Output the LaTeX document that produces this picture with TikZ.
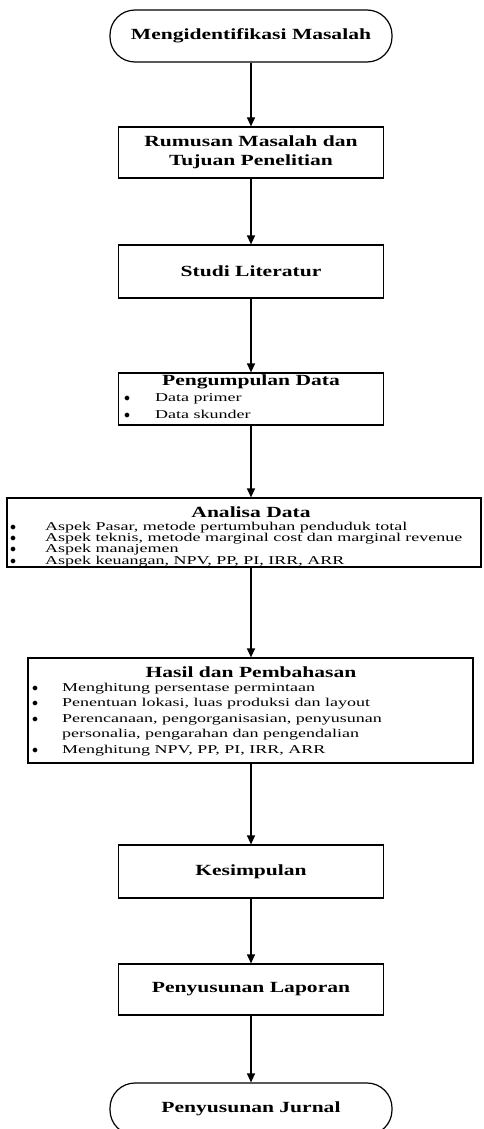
\documentclass[tikz,border=0pt]{standalone}
\usepackage{fontspec}
\setmainfont{Liberation Serif}
\newfontfamily\headfont{Liberation Serif Bold}[FakeStretch=1.39]
\newfontfamily\bodyfont{Liberation Serif}[FakeStretch=1.5]
\usetikzlibrary{arrows.meta,positioning}
\newcommand\butir[1]{\makebox[#1][l]{$\bullet$}}
\begin{document}
\begin{tikzpicture}[x=1pt,y=-1pt,
    box/.style={draw,line width=1.2pt,minimum width=265pt,minimum height=52pt,inner sep=0pt,align=center,font=\headfont\fontsize{15.5}{19}\selectfont},
    term/.style={box,rounded corners=25pt,minimum width=282pt},
    head/.style={inner sep=0pt,font=\headfont\fontsize{15.5}{19}\selectfont},
    list/.style={anchor=north west,align=left,inner sep=0pt,font=\bodyfont\fontsize{12}{#1}\selectfont},
    flow/.style={line width=1.2pt,-{Triangle[width=8pt,length=9pt]}}]
  \useasboundingbox (0,0) rectangle (483,1129);
  % alur utama
  \node[term] (mulai) at (251,36) {Mengidentifikasi Masalah};
  \node[box,minimum height=51pt] (rumusan) at (251,152.5) {Rumusan Masalah dan\\Tujuan Penelitian};
  \node[box,minimum height=53pt] (studi) at (251,271.5) {Studi Literatur};
  % pengumpulan data
  \node[box] (kumpul) at (251,399) {};
  \node[head] (kumpulT) at (251,382) {Pengumpulan Data};
  \node[list=16.5pt] (kumpulL) at (124,393.5) {\butir{31pt}Data primer\\\butir{31pt}Data skunder};
  % analisa data
  \node[box,minimum width=474pt,minimum height=69pt] (analisa) at (244,532.5) {};
  \node[head] (analisaT) at (251,512) {Analisa Data};
  \node[list=11.2pt] (analisaL) at (10,522) {\butir{35pt}Aspek Pasar, metode pertumbuhan penduduk total\\
    \butir{35pt}Aspek teknis, metode marginal cost dan marginal revenue\\
    \butir{35pt}Aspek manajemen\\
    \butir{35pt}Aspek keuangan, NPV, PP, PI, IRR, ARR};
  % hasil dan pembahasan
  \node[box,minimum width=445pt,minimum height=105pt] (hasil) at (250.5,710.5) {};
  \node[head] (hasilT) at (251,672) {Hasil dan Pembahasan};
  \node[list=15.6pt] (hasilL) at (32,682.5) {\butir{30pt}Menghitung persentase permintaan\\
    \butir{30pt}Penentuan lokasi, luas produksi dan layout\\
    \butir{30pt}Perencanaan, pengorganisasian, penyusunan\\
    \hspace*{30pt}personalia, pengarahan dan pengendalian\\
    \butir{30pt}Menghitung NPV, PP, PI, IRR, ARR};
  \node[box,minimum height=53pt] (simpul) at (251,871.5) {Kesimpulan};
  \node[box,minimum height=51pt] (laporan) at (251,989.5) {Penyusunan Laporan};
  \node[term] (jurnal) at (251,1109) {Penyusunan Jurnal};
  % panah
  \draw[flow] (mulai) -- (rumusan);
  \draw[flow] (rumusan) -- (studi);
  \draw[flow] (studi) -- (kumpul);
  \draw[flow] (kumpul.south) -- (kumpul.south |- analisa.north);
  \draw[flow] (kumpul.south |- analisa.south) -- (kumpul.south |- hasil.north);
  \draw[flow] (kumpul.south |- hasil.south) -- (simpul);
  \draw[flow] (simpul) -- (laporan);
  \draw[flow] (laporan) -- (jurnal);
\end{tikzpicture}
\end{document}
